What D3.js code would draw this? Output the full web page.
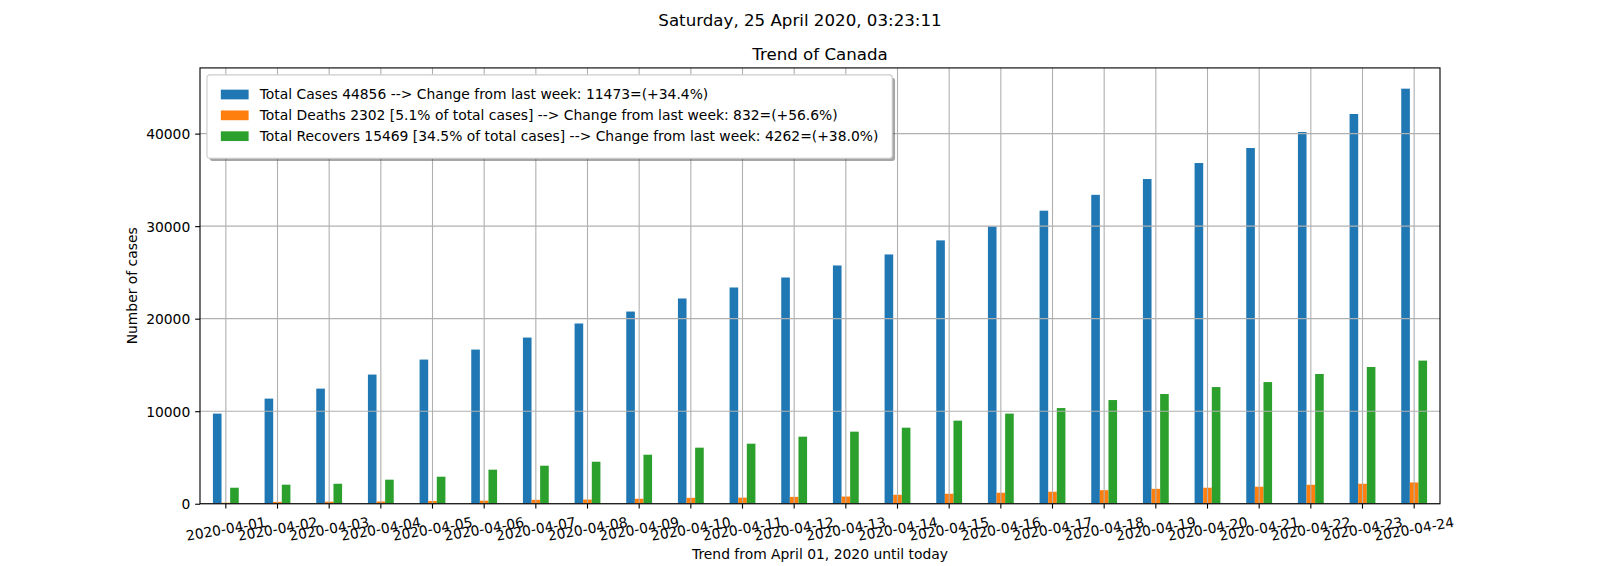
<!DOCTYPE html>
<html>
<head>
<meta charset="utf-8">
<script src="https://cdn.jsdelivr.net/npm/d3@7"></script>
<style>
  body { margin: 0; background: #fff; }
  svg { display: block; font-family: "DejaVu Sans", sans-serif; }
</style>
</head>
<body>
<svg id="chart" width="1600" height="566"></svg>
<script>
var dates = ["2020-04-01", "2020-04-02", "2020-04-03", "2020-04-04", "2020-04-05", "2020-04-06",
             "2020-04-07", "2020-04-08", "2020-04-09", "2020-04-10", "2020-04-11", "2020-04-12",
             "2020-04-13", "2020-04-14", "2020-04-15", "2020-04-16", "2020-04-17", "2020-04-18",
             "2020-04-19", "2020-04-20", "2020-04-21", "2020-04-22", "2020-04-23", "2020-04-24"];

var totalCases = [9740, 11360, 12440, 13960, 15580, 16660, 17960, 19480, 20770, 22180, 23370, 24450,
                  25750, 26940, 28460, 29970, 31670, 33383, 35090, 36820, 38440, 40170, 42120, 44856];

var totalDeaths = [110, 200, 220, 240, 300, 330, 420, 450, 540, 640, 660, 740,
                   780, 970, 1080, 1190, 1300, 1470, 1610, 1730, 1840, 2050, 2160, 2302];

var totalRecovers = [1730, 2060, 2160, 2600, 2920, 3680, 4110, 4540, 5300, 6060, 6490, 7250,
                     7790, 8220, 8980, 9740, 10340, 11207, 11860, 12610, 13150, 14020, 14780, 15469];

var seriesNames = ["Total Cases", "Total Deaths", "Total Recovers"];
var seriesColors = ["#1f77b4", "#ff7f0e", "#2ca02c"];

var legendLabels = [
    "Total Cases 44856 --> Change from last week: 11473=(+34.4%)",
    "Total Deaths 2302 [5.1% of total cases] --> Change from last week: 832=(+56.6%)",
    "Total Recovers 15469 [34.5% of total cases] --> Change from last week: 4262=(+38.0%)"
];

var yTicks = [0, 10000, 20000, 30000, 40000];

var suptitleText = "Saturday, 25 April 2020, 03:23:11";
var titleText = "Trend of Canada";
var xLabelText = "Trend from April 01, 2020 until today";
var yLabelText = "Number of cases";

// figure geometry, matplotlib style (100 dpi, 10pt text)
// note: "top" is taken by window.top, hence the ax* names
var W = 1600, H = 566;
var fs = 13.89;
var axLeft = 0.125 * W, axRight = 0.9 * W, axTop = 0.12 * H, axBottom = 0.89 * H;
var tickLen = 4.86, tickPad = 4.86, lw = 1.11;

var svg = d3.select("#chart");

var series = [totalCases, totalDeaths, totalRecovers];
var rows = dates.map(function(d, i) {
    return { date: d, values: series.map(function(s, j) { return { name: seriesNames[j], value: s[i], color: seriesColors[j] }; }) };
});

var x = d3.scaleBand().domain(dates).range([axLeft, axRight]).padding(0);
var bw = x.bandwidth();
var inner = d3.scaleBand().domain(seriesNames).range([-0.25 * bw, 0.25 * bw]).padding(0);
var allValues = [].concat(totalCases, totalDeaths, totalRecovers);
var y = d3.scaleLinear().domain([0, d3.max(allValues) * 1.05]).range([axBottom, axTop]);

var xc = function(d) { return x(d) + bw / 2; };

// bars
var groups = svg.append("g").selectAll("g").data(rows).enter().append("g")
    .attr("transform", function(d) { return "translate(" + xc(d.date) + ",0)"; });

groups.selectAll("rect").data(function(d) { return d.values; }).enter().append("rect")
    .attr("x", function(d) { return inner(d.name); })
    .attr("width", inner.bandwidth())
    .attr("y", function(d) { return y(d.value); })
    .attr("height", function(d) { return axBottom - y(d.value); })
    .attr("fill", function(d) { return d.color; });

// grid (drawn above the bars, like matplotlib)
var grid = svg.append("g").attr("stroke", "#b0b0b0").attr("stroke-width", lw);
grid.selectAll(".vg").data(dates).enter().append("line")
    .attr("x1", xc).attr("x2", xc).attr("y1", axTop).attr("y2", axBottom);
grid.selectAll(".hg").data(yTicks).enter().append("line")
    .attr("x1", axLeft).attr("x2", axRight)
    .attr("y1", function(d) { return y(d); }).attr("y2", function(d) { return y(d); });

// y axis
var yAxis = svg.append("g")
    .attr("transform", "translate(" + axLeft + ",0)")
    .call(d3.axisLeft(y).tickValues(yTicks).tickSize(tickLen).tickPadding(tickPad).tickFormat(d3.format("d")));
yAxis.select(".domain").remove();
yAxis.selectAll(".tick line").attr("stroke", "#000").attr("stroke-width", lw);
yAxis.selectAll(".tick text")
    .attr("font-family", "DejaVu Sans").attr("font-size", fs).attr("fill", "#000")
    .attr("dy", "0.365em");

// x axis
var xAxis = svg.append("g")
    .attr("transform", "translate(0," + axBottom + ")")
    .call(d3.axisBottom(x).tickSize(tickLen).tickPadding(tickPad));
xAxis.select(".domain").remove();
xAxis.selectAll(".tick line").attr("stroke", "#000").attr("stroke-width", lw);
xAxis.selectAll(".tick text")
    .attr("font-family", "DejaVu Sans").attr("font-size", fs).attr("fill", "#000")
    .attr("text-anchor", "middle")
    .attr("y", 0).attr("dy", "0.365em")
    .attr("transform", "translate(0,25) rotate(-10)");

// spines
svg.append("rect")
    .attr("x", axLeft).attr("y", axTop).attr("width", axRight - axLeft).attr("height", axBottom - axTop)
    .attr("fill", "none").attr("stroke", "#000").attr("stroke-width", lw);

// titles and labels
svg.append("text").attr("x", W / 2).attr("y", 25.5)
    .attr("text-anchor", "middle").attr("font-size", 16.67).text(suptitleText);
svg.append("text").attr("x", (axLeft + axRight) / 2).attr("y", 59.5)
    .attr("text-anchor", "middle").attr("font-size", 16.67).text(titleText);
svg.append("text").attr("x", (axLeft + axRight) / 2).attr("y", 559.3)
    .attr("text-anchor", "middle").attr("font-size", fs).text(xLabelText);
svg.append("text")
    .attr("transform", "translate(137.3," + (axTop + axBottom) / 2 + ") rotate(-90)")
    .attr("text-anchor", "middle").attr("font-size", fs).text(yLabelText);

// legend, upper left, with shadow
var pad = 0.5 * fs, border = 1.0 * fs, handleW = 2.0 * fs, handleH = 0.7 * fs, textPad = 0.8 * fs;
var rowH = fs, rowGap = 0.5 * fs;
var lg = svg.append("g").attr("transform", "translate(" + (axLeft + pad) + "," + (axTop + pad) + ")");
var shadow = lg.append("rect");
var frame = lg.append("rect");

var items = lg.selectAll(".item").data(legendLabels).enter().append("g")
    .attr("transform", function(d, i) {
        return "translate(0," + (border + rowH / 2 + i * (rowH + rowGap)) + ")";
    });
items.append("rect")
    .attr("x", border).attr("y", 3.67 - handleH)
    .attr("width", handleW).attr("height", handleH)
    .attr("fill", function(d, i) { return seriesColors[i]; });
items.append("text")
    .attr("x", border + handleW + textPad).attr("y", 3.67)
    .attr("font-size", fs).text(function(d) { return d; });

var textW = 0;
items.selectAll("text").each(function() { textW = Math.max(textW, this.getComputedTextLength()); });
var boxW = border + handleW + textPad + textW + border;
var boxH = 2 * border + legendLabels.length * rowH + (legendLabels.length - 1) * rowGap;

shadow.attr("x", 2.78).attr("y", 2.78).attr("width", boxW).attr("height", boxH)
    .attr("rx", 2.78).attr("fill", "#4d4d4d").attr("fill-opacity", 0.5);
frame.attr("x", 0).attr("y", 0).attr("width", boxW).attr("height", boxH)
    .attr("rx", 2.78).attr("fill", "#fff").attr("stroke", "#cccccc").attr("stroke-width", lw);
</script>
</body>
</html>
